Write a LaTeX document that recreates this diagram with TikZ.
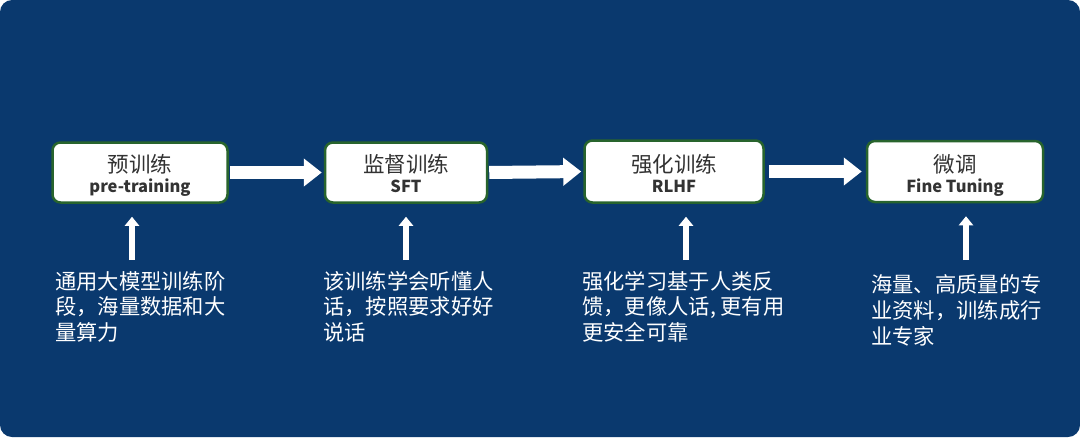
\documentclass[tikz,border=0pt]{standalone}
\usepackage{fontspec}
\setmainfont{Noto Sans CJK SC}
\usetikzlibrary{arrows.meta}
\definecolor{bgblue}{RGB}{10,57,110}
\definecolor{boxgreen}{RGB}{40,100,45}
\definecolor{titlegray}{RGB}{50,50,50}
\begin{document}
\begin{tikzpicture}[x=1pt,y=-1pt,
  stagebox/.style={draw=boxgreen, line width=2.5pt, fill=white, rounded corners=8pt, inner sep=0pt},
  titletext/.style={inner sep=0pt, text=titlegray, font=\fontsize{21.5pt}{25pt}\selectfont},
  subtext/.style={inner sep=0pt, text=black!80, font=\fontsize{16.5pt}{20pt}\selectfont\bfseries},
  desctext/.style={inner sep=0pt, anchor=base west, text=white, font=\fontsize{21.3pt}{26pt}\selectfont},
  flowarrow/.style={white, line width=13pt, -{Triangle[width=27pt,length=18pt]}},
  uparrow/.style={white, line width=6pt, -{Triangle[width=14pt,length=9pt]}}
]
\useasboundingbox (0,0) rectangle (1080,437);
\fill[bgblue, rounded corners=12pt] (0,0) rectangle (1080,437);

% stage boxes
\node[stagebox, minimum width=175pt, minimum height=60pt] (b1) at (140,172.5) {};
\node[stagebox, minimum width=162pt, minimum height=60pt] (b2) at (406,172.5) {};
\node[stagebox, minimum width=179pt, minimum height=62pt] (b3) at (674,171.5) {};
\node[stagebox, minimum width=176pt, minimum height=61pt] (b4) at (955,171.5) {};

% titles
\node[titletext, anchor=base] (b1t) at (140,172) {预训练};
\node[subtext, anchor=base] (b1s) at (140,192) {pre-training};
\node[titletext, anchor=base] (b2t) at (406,172) {监督训练};
\node[subtext, anchor=base] (b2s) at (406,192) {SFT};
\node[titletext, anchor=base] (b3t) at (674,172) {强化训练};
\node[subtext, anchor=base] (b3s) at (674,192) {RLHF};
\node[titletext, anchor=base] (b4t) at (955,172) {微调};
\node[subtext, anchor=base] (b4s) at (955,192) {Fine Tuning};

% flow arrows
\draw[flowarrow, shorten <=1pt, shorten >=2pt] (b1.east) -- (b2.west);
\draw[flowarrow, shorten <=1pt, shorten >=2pt] (b2.east) -- (b3.west);
\draw[flowarrow, shorten <=4pt, shorten >=4pt] (b3.east) -- (b4.west);

% up arrows
\coordinate (u1) at (132,260);
\coordinate (u2) at (406,260);
\coordinate (u3) at (686,260);
\coordinate (u4) at (966,260);
\draw[uparrow, shorten >=13pt] (u1) -- (u1 |- b1.south);
\draw[uparrow, shorten >=13pt] (u2) -- (u2 |- b2.south);
\draw[uparrow, shorten >=13pt] (u3) -- (u3 |- b3.south);
\draw[uparrow, shorten >=13pt] (u4) -- (u4 |- b4.south);

% descriptions
\node[desctext] (d1a) at (55,289) {通用大模型训练阶};
\node[desctext] (d1b) at (55,314.5) {段，海量数据和大};
\node[desctext] (d1c) at (55,340) {量算力};

\node[desctext] (d2a) at (323,289) {该训练学会听懂人};
\node[desctext] (d2b) at (323,314.5) {话，按照要求好好};
\node[desctext] (d2c) at (323,340) {说话};

\node[desctext] (d3a) at (582,289) {强化学习基于人类反};
\node[desctext] (d3b) at (582,314.5) {馈，更像人话, 更有用};
\node[desctext] (d3c) at (582,340) {更安全可靠};

\node[desctext] (d4a) at (871,292) {海量、高质量的专};
\node[desctext] (d4b) at (871,318) {业资料，训练成行};
\node[desctext] (d4c) at (871,344) {业专家};
\end{tikzpicture}
\end{document}
